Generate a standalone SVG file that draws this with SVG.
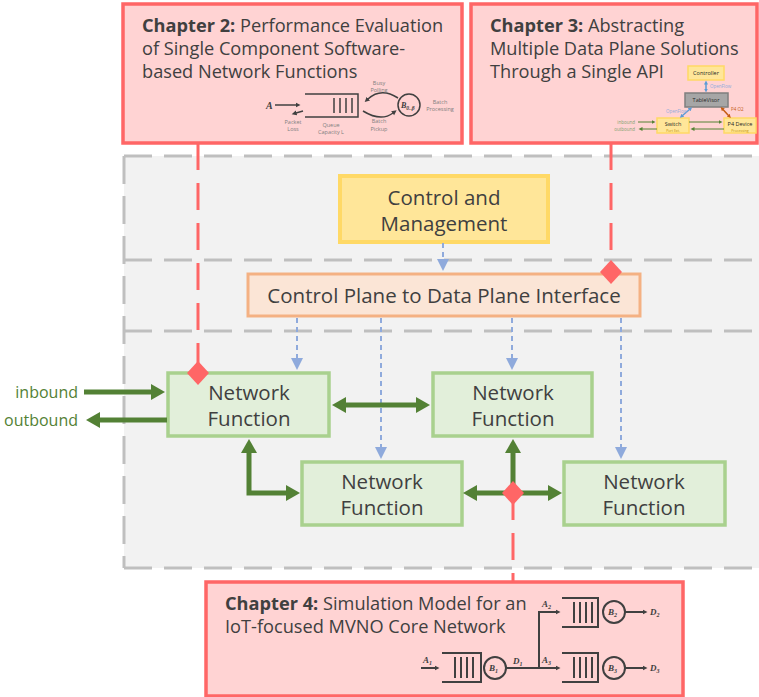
<svg xmlns="http://www.w3.org/2000/svg" width="759" height="697" viewBox="0 0 759 697">
<style>
.t{font-family:"Open Sans","Noto Sans","Liberation Sans",sans-serif;fill:#404040}
.ch{font-size:18.2px}
.b{font-weight:bold}
.nf{font-size:20.5px;text-anchor:middle}
.box{fill:#ffd3d3;stroke:#ff6666;stroke-width:3.5}
.nfb{fill:#e2efda;stroke:#a9d18e;stroke-width:3.5}
.gd{fill:none;stroke:#bfbfbf;stroke-width:3;stroke-dasharray:28,12}
.rd{fill:none;stroke:#ff6666;stroke-width:3;stroke-dasharray:27,13}
.bl{fill:none;stroke:#8faadc;stroke-width:2;stroke-dasharray:5,4}
.gr{fill:none;stroke:#538135;stroke-width:5}
.dia{fill:#ff6666}
.s{font-family:"Open Sans","Noto Sans","Liberation Sans",sans-serif;text-anchor:middle}
.m{font-family:"Liberation Serif",serif;font-style:italic;font-weight:bold;fill:#404040}
.ln{fill:none;stroke:#404040}
</style>
<defs>
<marker id="ga" markerWidth="15" markerHeight="16" refX="1" refY="8" orient="auto-start-reverse" markerUnits="userSpaceOnUse"><path d="M0,0 L14,8 L0,16 z" fill="#538135"/></marker>
<marker id="ba" markerWidth="13" markerHeight="12" refX="1" refY="6" orient="auto" markerUnits="userSpaceOnUse"><path d="M0,0 L12,6 L0,12 z" fill="#8faadc"/></marker>
<marker id="ka" markerWidth="6" markerHeight="6" refX="0.5" refY="3" orient="auto" markerUnits="userSpaceOnUse"><path d="M0,0.5 L5,3 L0,5.5 z" fill="#404040"/></marker>
<marker id="sa" markerWidth="5" markerHeight="4" refX="0.5" refY="2" orient="auto-start-reverse" markerUnits="userSpaceOnUse"><path d="M0,0 L4,2 L0,4 z" fill="#548235"/></marker>
<marker id="sb" markerWidth="5" markerHeight="4" refX="0.5" refY="2" orient="auto-start-reverse" markerUnits="userSpaceOnUse"><path d="M0,0 L4,2 L0,4 z" fill="#5b9bd5"/></marker>
<marker id="so" markerWidth="5" markerHeight="4" refX="0.5" refY="2" orient="auto-start-reverse" markerUnits="userSpaceOnUse"><path d="M0,0 L4,2 L0,4 z" fill="#c55a11"/></marker>
</defs>

<g id="container">
<rect x="124" y="156" width="640" height="412" fill="#f2f2f2"/>
<path class="gd" d="M124,156 H759 M124,260 H759 M124,331 H759 M124,568 H759 M124,156 V568"/>
</g>

<g id="chapter2">
<rect class="box" x="123" y="4" width="339" height="139"/>
<text class="t ch" x="142" y="32"><tspan class="b">Chapter 2:</tspan> Performance Evaluation</text>
<text class="t ch" x="142" y="55">of Single Component Software-</text>
<text class="t ch" x="142" y="78">based Network Functions</text>
<g id="ch2-mini">
<text class="m" x="266" y="109" font-size="10">A</text>
<path class="ln" stroke-width="1.5" d="M275,105 H296" marker-end="url(#ka)"/>
<path class="ln" stroke-width="1.5" d="M303,111 L296,113" marker-end="url(#ka)"/>
<path class="ln" stroke-width="1.5" d="M305,94 H358 V117 H305"/>
<path class="ln" stroke-width="1.5" d="M334,98 V113 M340,98 V113 M346,98 V113 M352,98 V113"/>
<path class="ln" stroke-width="1.5" d="M398,98 Q381,87 368,99" marker-end="url(#ka)"/>
<path class="ln" stroke-width="1.5" d="M363,111 Q381,122 393,113" marker-end="url(#ka)"/>
<circle cx="409" cy="105" r="11" fill="none" stroke="#404040" stroke-width="1.5"/>
<text class="m" x="401" y="108" font-size="8">B<tspan font-size="5.5" dy="1.5">0..β</tspan></text>
<g class="s" font-size="5.5" fill="#7f7f7f">
<text x="293" y="124">Packet</text><text x="293" y="131">Loss</text>
<text x="331" y="127">Queue</text><text x="331" y="134">Capacity L</text>
<text x="379" y="85">Busy</text><text x="379" y="92">Polling</text>
<text x="379" y="123">Batch</text><text x="379" y="131">Pickup</text>
<text x="440" y="104">Batch</text><text x="440" y="111">Processing</text>
</g>
</g>
</g>

<g id="chapter3">
<rect class="box" x="471" y="4" width="286" height="139"/>
<text class="t ch" x="490" y="32"><tspan class="b">Chapter 3:</tspan> Abstracting</text>
<text class="t ch" x="490" y="55">Multiple Data Plane Solutions</text>
<text class="t ch" x="490" y="78">Through a Single API</text>
<g id="ch3-mini">
<rect x="688" y="66" width="36" height="14" fill="#ffe699" stroke="#ffd966" stroke-width="1.5"/>
<rect x="685" y="93" width="43" height="14" fill="#a6a6a6" stroke="#7f7f7f" stroke-width="1.5"/>
<rect x="657" y="118" width="32" height="15" fill="#ffe699" stroke="#ffd966" stroke-width="1.5"/>
<rect x="724" y="118" width="32" height="15" fill="#ffe699" stroke="#ffd966" stroke-width="1.5"/>
<path d="M706,84 V89" stroke="#5b9bd5" stroke-width="1.5" marker-start="url(#sb)" marker-end="url(#sb)"/>
<path d="M682.5,115.5 L689.5,109.5" stroke="#5b9bd5" stroke-width="1.5" marker-start="url(#sb)" marker-end="url(#sb)"/>
<path d="M723,109.5 L728.5,115.5" stroke="#c55a11" stroke-width="1.5" marker-start="url(#so)" marker-end="url(#so)"/>
<path d="M638,122 H652" stroke="#548235" stroke-width="1" marker-end="url(#sa)"/>
<path d="M657,129 H642" stroke="#548235" stroke-width="1" marker-end="url(#sa)"/>
<path d="M689,122 H719" stroke="#548235" stroke-width="1" marker-end="url(#sa)"/>
<path d="M724,129 H694" stroke="#548235" stroke-width="1" marker-end="url(#sa)"/>
<g class="s" font-size="5.5" fill="#262626">
<text x="706" y="75">Controller</text>
<text x="706" y="102">TableVisor</text>
<text x="673" y="126">Switch</text>
<text x="740" y="126">P4 Device</text>
</g>
<g class="s" font-size="3.5" fill="#bf9000">
<text x="673" y="131.5">Port Ext.</text>
<text x="740" y="131.5">Processing</text>
</g>
<g font-family="'Open Sans',sans-serif" font-size="4.5">
<text x="710" y="88" fill="#8faadc">OpenFlow</text>
<text x="666" y="113" fill="#8faadc">OpenFlow</text>
<text x="731" y="111" fill="#c55a11">P4 O2</text>
<text x="635" y="123.5" fill="#7f9f6f" text-anchor="end">inbound</text>
<text x="635" y="130.5" fill="#7f9f6f" text-anchor="end">outbound</text>
</g>
</g>
</g>

<g id="chapter4">
<rect class="box" x="206" y="582" width="477" height="114"/>
<text class="t ch" x="225" y="610"><tspan class="b">Chapter 4:</tspan> Simulation Model for an</text>
<text class="t ch" x="225" y="633">IoT-focused MVNO Core Network</text>
<g id="ch4-mini">
<path class="ln" stroke-width="2" d="M421,668 H435" marker-end="url(#ka)"/>
<path class="ln" stroke-width="2" d="M442,653 H481 V682 H442 M455,657 V678 M461,657 V678 M467,657 V678 M473,657 V678"/>
<circle cx="495" cy="668" r="11" fill="none" stroke="#404040" stroke-width="2"/>
<path class="ln" stroke-width="2" d="M506,668 H556" marker-end="url(#ka)"/>
<path class="ln" stroke-width="2" d="M539,668 V612 H556" marker-end="url(#ka)"/>
<path class="ln" stroke-width="2" d="M562,598 H598 V627 H562 M574,602 V623 M580,602 V623 M586,602 V623 M592,602 V623"/>
<path class="ln" stroke-width="2" d="M562,653 H598 V682 H562 M574,657 V678 M580,657 V678 M586,657 V678 M592,657 V678"/>
<circle cx="614" cy="612" r="11" fill="none" stroke="#404040" stroke-width="2"/>
<circle cx="614" cy="668" r="11" fill="none" stroke="#404040" stroke-width="2"/>
<path class="ln" stroke-width="2" d="M625,612 H643" marker-end="url(#ka)"/>
<path class="ln" stroke-width="2" d="M625,668 H643" marker-end="url(#ka)"/>
<g class="m" font-size="9">
<text x="423" y="663">A<tspan font-size="6" dy="2">1</tspan></text>
<text x="489" y="671">B<tspan font-size="6" dy="2">1</tspan></text>
<text x="513" y="664">D<tspan font-size="6" dy="2">1</tspan></text>
<text x="542" y="607">A<tspan font-size="6" dy="2">2</tspan></text>
<text x="542" y="663">A<tspan font-size="6" dy="2">3</tspan></text>
<text x="608" y="615">B<tspan font-size="6" dy="2">2</tspan></text>
<text x="608" y="671">B<tspan font-size="6" dy="2">3</tspan></text>
<text x="650" y="615">D<tspan font-size="6" dy="2">2</tspan></text>
<text x="650" y="671">D<tspan font-size="6" dy="2">3</tspan></text>
</g>
</g>
</g>

<g id="control-management">
<rect x="340" y="176" width="208" height="66" fill="#ffe699" stroke="#ffd966" stroke-width="4"/>
<text class="t nf" x="444" y="205">Control and</text>
<text class="t nf" x="444" y="231">Management</text>
</g>

<g id="cp-dp-interface">
<rect x="248" y="274" width="392" height="42" fill="#fbe5d6" stroke="#f4b183" stroke-width="3"/>
<text class="t nf" x="444" y="303">Control Plane to Data Plane Interface</text>
</g>

<g id="nf1">
<rect class="nfb" x="168" y="373" width="161" height="63"/>
<text class="t nf" x="249" y="400">Network</text>
<text class="t nf" x="249" y="426">Function</text>
</g>
<g id="nf2">
<rect class="nfb" x="433" y="373" width="159" height="63"/>
<text class="t nf" x="513" y="400">Network</text>
<text class="t nf" x="513" y="426">Function</text>
</g>
<g id="nf3">
<rect class="nfb" x="302" y="462" width="160" height="63"/>
<text class="t nf" x="382" y="489">Network</text>
<text class="t nf" x="382" y="515">Function</text>
</g>
<g id="nf4">
<rect class="nfb" x="564" y="462" width="161" height="63"/>
<text class="t nf" x="644" y="489">Network</text>
<text class="t nf" x="644" y="515">Function</text>
</g>

<g id="connectors">
<path class="bl" d="M443,243 V260" marker-end="url(#ba)"/>
<path class="bl" d="M297,318 V359" marker-end="url(#ba)"/>
<path class="bl" d="M381,318 V448" marker-end="url(#ba)"/>
<path class="bl" d="M512,318 V359" marker-end="url(#ba)"/>
<path class="bl" d="M621,318 V448" marker-end="url(#ba)"/>

<path class="gr" d="M84,392 H152" marker-end="url(#ga)"/>
<path class="gr" d="M167,420 H99" marker-end="url(#ga)"/>
<path class="gr" d="M345,405 H417" marker-start="url(#ga)" marker-end="url(#ga)"/>
<path class="gr" d="M249,452 V493 H287" marker-start="url(#ga)" marker-end="url(#ga)"/>
<path class="gr" d="M513,493 V452" marker-end="url(#ga)"/>
<path class="gr" d="M513,493 H476" marker-end="url(#ga)"/>
<path class="gr" d="M513,493 H549" marker-end="url(#ga)"/>

<path class="rd" d="M198,143 V373"/>
<path class="rd" d="M611,143 V272"/>
<path class="rd" d="M513,493 V582"/>
<path class="dia" d="M198,361 L209,373 L198,385 L187,373 z"/>
<path class="dia" d="M611,260 L622,272 L611,284 L600,272 z"/>
<path class="dia" d="M513,481 L524,493 L513,505 L502,493 z"/>

<text x="78" y="398" font-family="'Open Sans','Noto Sans',sans-serif" font-size="16" fill="#538135" text-anchor="end">inbound</text>
<text x="78" y="426" font-family="'Open Sans','Noto Sans',sans-serif" font-size="16" fill="#538135" text-anchor="end">outbound</text>
</g>
</svg>
